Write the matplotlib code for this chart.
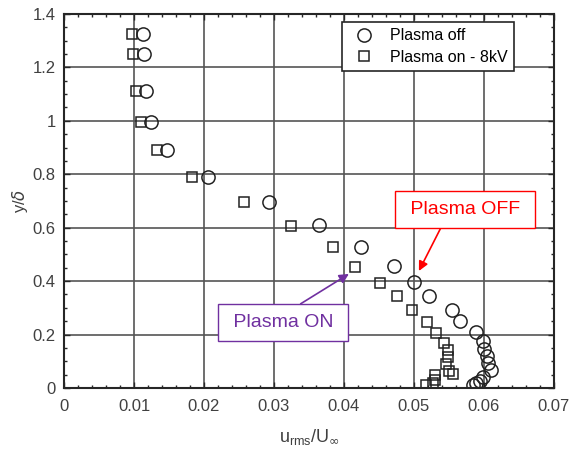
import matplotlib.pyplot as plt
import numpy as np

plt.rcParams['font.family'] = ['Liberation Sans', 'DejaVu Sans']
plt.rcParams['font.size'] = 12

# plasma off (circles)
off_x = [0.01124, 0.01143, 0.01171, 0.01243, 0.01476, 0.02061, 0.02929, 0.03643,
         0.04243, 0.04719, 0.04996, 0.05214, 0.05538, 0.05657, 0.05881, 0.05981,
         0.06005, 0.06038, 0.06062, 0.06100, 0.05990, 0.05940, 0.05890, 0.05850]
off_y = [1.324, 1.250, 1.113, 0.997, 0.891, 0.791, 0.697, 0.609,
         0.529, 0.455, 0.397, 0.344, 0.292, 0.251, 0.211, 0.176,
         0.147, 0.120, 0.092, 0.067, 0.043, 0.025, 0.018, 0.012]

# plasma on - 8kV (squares)
on_x = [0.00967, 0.00990, 0.01024, 0.01096, 0.01324, 0.01829, 0.02571, 0.03243,
        0.03843, 0.04157, 0.04510, 0.04762, 0.04971, 0.05180, 0.05314, 0.05433,
        0.05480, 0.05490, 0.05457, 0.05560, 0.05500, 0.05300, 0.05300, 0.05270, 0.05170]
on_y = [1.324, 1.250, 1.113, 0.997, 0.891, 0.789, 0.695, 0.608,
        0.528, 0.454, 0.394, 0.343, 0.291, 0.246, 0.207, 0.168,
        0.142, 0.115, 0.089, 0.051, 0.065, 0.049, 0.030, 0.018, 0.010]

fig = plt.figure(figsize=(5.7, 4.54), dpi=100)
ax = fig.add_axes([0.1123, 0.1454, 0.8596, 0.8238])

ax.plot(off_x, off_y, 'o', mfc='none', mec='#222222', ms=9.5, mew=1.1, label='Plasma off')
ax.plot(on_x, on_y, 's', mfc='none', mec='#222222', ms=7.2, mew=1.1, label='Plasma on - 8kV')

ax.set_xlim(0, 0.07)
ax.set_ylim(0, 1.4)
ax.set_xticks(np.arange(0, 0.0701, 0.01))
ax.set_xticklabels(['0', '0.01', '0.02', '0.03', '0.04', '0.05', '0.06', '0.07'])
ax.set_yticks(np.arange(0, 1.401, 0.2))
ax.set_yticklabels(['0', '0.2', '0.4', '0.6', '0.8', '1', '1.2', '1.4'])
ax.set_xticks(np.arange(0, 0.0701, 0.002), minor=True)
ax.set_yticks(np.arange(0, 1.401, 0.05), minor=True)
ax.tick_params(which='both', direction='in', top=True, right=True, colors='#262626',
               labelcolor='#404040')
ax.tick_params(which='major', length=4, width=1)
ax.tick_params(which='minor', length=2.5, width=1)
ax.tick_params(axis='x', which='major', pad=8)
ax.tick_params(axis='y', which='major', pad=6)
for s in ax.spines.values():
    s.set_linewidth(1.5)
    s.set_color('#262626')
ax.grid(True, which='major', color='#555555', lw=1.2)
ax.set_axisbelow(True)

ax.set_xlabel(r'u$_{\mathregular{rms}}$/U$_{\infty}$', color='#404040', fontsize=13, labelpad=9)
ax.set_ylabel(r'y/$\delta$', color='#404040', fontsize=12, labelpad=2)

leg = ax.legend(loc='upper right', bbox_to_anchor=(0.918, 0.979), borderaxespad=0,
                fancybox=False, framealpha=1, edgecolor='#262626', handletextpad=0.6,
                borderpad=0.4, labelspacing=0.4, fontsize=11.5)
leg.get_frame().set_linewidth(1.2)

ax.annotate(' Plasma OFF ', xy=(0.0507, 0.438), xytext=(0.0573, 0.668),
            color='red', fontsize=14, ha='center', va='center',
            bbox=dict(boxstyle='square,pad=0.5', fc='white', ec='red', lw=1),
            arrowprops=dict(arrowstyle='-|>', color='red', lw=1.2, shrinkA=0, shrinkB=0,
                            relpos=(0.34, 0), mutation_scale=14))
ax.annotate(' Plasma ON ', xy=(0.0407, 0.427), xytext=(0.03129, 0.245),
            color='#7030a0', fontsize=14, ha='center', va='center',
            bbox=dict(boxstyle='square,pad=0.5', fc='white', ec='#7030a0', lw=1),
            arrowprops=dict(arrowstyle='-|>', color='#7030a0', lw=1.2, shrinkA=0, shrinkB=0,
                            relpos=(0.51, 1), mutation_scale=14))

fig.savefig('out.png', dpi=100)
